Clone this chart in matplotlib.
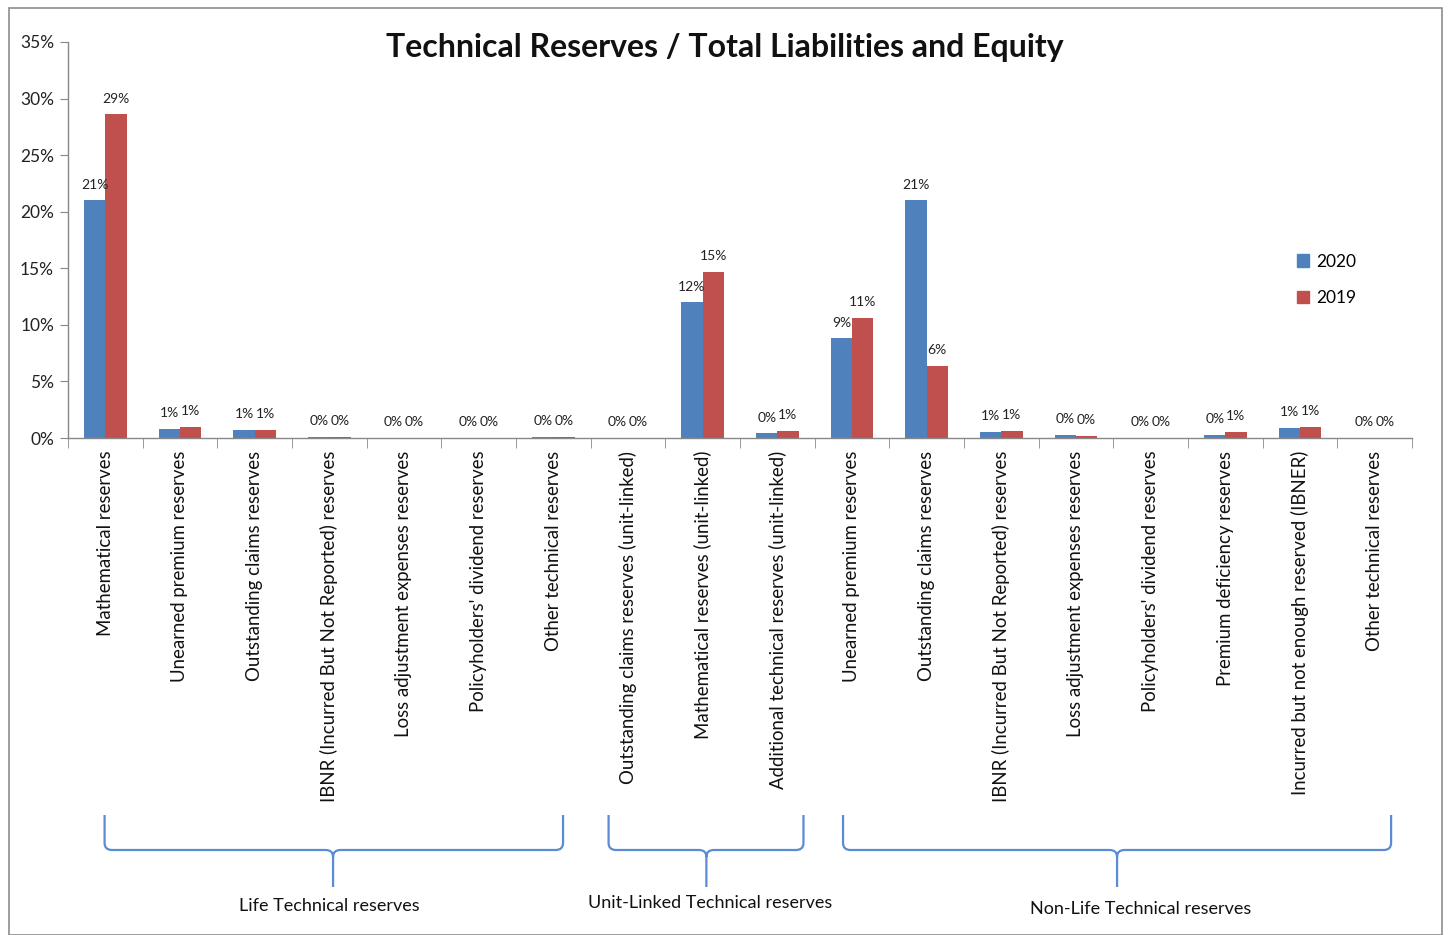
import matplotlib
matplotlib.use("Agg")
import matplotlib.pyplot as plt
import numpy as np
from matplotlib.patches import Rectangle, Patch
from matplotlib.path import Path
from matplotlib.patches import PathPatch
from matplotlib.transforms import blended_transform_factory
from matplotlib.ticker import FuncFormatter, MultipleLocator

plt.rcParams['font.family'] = ['Lato', 'DejaVu Sans']

categories = [
    "Mathematical reserves",
    "Unearned premium reserves",
    "Outstanding claims reserves",
    "IBNR (Incurred But Not Reported) reserves",
    "Loss adjustment expenses reserves",
    "Policyholders' dividend reserves",
    "Other technical reserves",
    "Outstanding claims reserves (unit-linked)",
    "Mathematical reserves (unit-linked)",
    "Additional technical reserves (unit-linked)",
    "Unearned premium reserves",
    "Outstanding claims reserves",
    "IBNR (Incurred But Not Reported) reserves",
    "Loss adjustment expenses reserves",
    "Policyholders' dividend reserves",
    "Premium deficiency reserves",
    "Incurred but not enough reserved (IBNER)",
    "Other technical reserves",
]

values_2020 = [21.0, 0.8, 0.7, 0.1, 0.0, 0.0, 0.1, 0.0, 12.0, 0.4,
               8.8, 21.0, 0.55, 0.3, 0.0, 0.3, 0.9, 0.0]
values_2019 = [28.6, 1.0, 0.7, 0.1, 0.0, 0.0, 0.1, 0.0, 14.7, 0.6,
               10.6, 6.4, 0.6, 0.2, 0.0, 0.55, 1.0, 0.0]

labels_2020 = ["21%", "1%", "1%", "0%", "0%", "0%", "0%", "0%", "12%", "0%",
               "9%", "21%", "1%", "0%", "0%", "0%", "1%", "0%"]
labels_2019 = ["29%", "1%", "1%", "0%", "0%", "0%", "0%", "0%", "15%", "1%",
               "11%", "6%", "1%", "0%", "0%", "1%", "1%", "0%"]

series_names = ["2020", "2019"]
group_names = ["Life Technical reserves", "Unit-Linked Technical reserves",
               "Non-Life Technical reserves"]
# brace spans in category units (start, end, tip) and label x
group_spans = [(-0.01, 6.13, 3.05), (6.74, 9.35, 8.05), (9.88, 17.22, 13.55)]
group_label_x = [3.0, 8.1, 13.86]

BLUE = "#4F81BD"
RED = "#C0504D"

W, H = 1449, 935
fig = plt.figure(figsize=(W / 100, H / 100), dpi=100)
ax = fig.add_axes([68 / W, 1 - 438 / H, (1412 - 68) / W, (438 - 42) / H])

x = np.arange(len(categories))
bw = 0.285
ax.bar(x - bw / 2, values_2020, bw, color=BLUE, label=series_names[0])
ax.bar(x + bw / 2, values_2019, bw, color=RED, label=series_names[1])

for xi, v, lab in zip(x - bw / 2, values_2020, labels_2020):
    ax.annotate(lab, (xi, v), xytext=(0, 7), textcoords="offset points",
                ha="center", va="bottom", fontsize=10, color="#222222")
for xi, v, lab in zip(x + bw / 2, values_2019, labels_2019):
    ax.annotate(lab, (xi, v), xytext=(0, 7), textcoords="offset points",
                ha="center", va="bottom", fontsize=10, color="#222222")

ax.set_xlim(-0.5, len(categories) - 0.5)
ax.set_ylim(0, 35)
ax.yaxis.set_major_locator(MultipleLocator(5))
ax.yaxis.set_major_formatter(FuncFormatter(lambda v, p: f"{v:.0f}%"))
ax.tick_params(axis="y", labelsize=12.5, length=6, color="#888888",
               labelcolor="#222222", pad=4)

ax.set_xticks(x)
ax.set_xticklabels(categories, rotation=90, fontsize=13.4, color="#111111",
                   va="top", ha="center")
ax.tick_params(axis="x", length=0, pad=9)
ax.set_xticks(np.arange(-0.5, len(categories) + 0.5, 1), minor=True)
ax.tick_params(axis="x", which="minor", length=7, color="#888888")

for s in ["top", "right"]:
    ax.spines[s].set_visible(False)
for s in ["left", "bottom"]:
    ax.spines[s].set_color("#888888")
    ax.spines[s].set_linewidth(1.0)

fig.text(725 / W, 1 - 48 / H, "Technical Reserves / Total Liabilities and Equity",
         ha="center", va="center", fontsize=23, fontweight="bold", color="#111111")

handles = [Patch(color=BLUE), Patch(color=RED)]
fig.legend(handles, series_names, loc="upper left",
           bbox_to_anchor=(1281 / W, 1 - 238 / H), frameon=False,
           fontsize=12.5, handlelength=0.7, handleheight=0.7,
           handletextpad=0.4, labelspacing=1.2)

# braces
tr = blended_transform_factory(ax.transData, fig.transFigure)
top_y = 1 - 815 / H
mid_y = 1 - 850 / H
tip_y = 1 - 887 / H
ry = 7 / H
rx = 0.1
for (a, b, t) in group_spans:
    verts = [
        (a, top_y), (a, mid_y + ry), (a, mid_y), (a + rx, mid_y),
        (t - rx, mid_y), (t, mid_y), (t, mid_y - ry), (t, tip_y),
        (t, mid_y - ry), (t, mid_y), (t + rx, mid_y),
        (b - rx, mid_y), (b, mid_y), (b, mid_y + ry), (b, top_y),
    ]
    codes = [Path.MOVETO, Path.LINETO, Path.CURVE3, Path.CURVE3,
             Path.LINETO, Path.CURVE3, Path.CURVE3, Path.LINETO,
             Path.MOVETO, Path.CURVE3, Path.CURVE3,
             Path.LINETO, Path.CURVE3, Path.CURVE3, Path.LINETO]
    pp = PathPatch(Path(verts, codes), transform=tr, fill=False,
                   edgecolor="#5B8BD0", linewidth=1.6, clip_on=False)
    fig.add_artist(pp)

label_y = [1 - 906 / H, 1 - 903 / H, 1 - 909 / H]
for name, lx, ly in zip(group_names, group_label_x, label_y):
    fig.text(lx, ly, name, transform=tr, ha="center", va="center",
             fontsize=13, color="#111111")

# outer frame
fig.add_artist(Rectangle((9 / W, 0 / H), (1442 - 9) / W, (H - 8) / H,
                         transform=fig.transFigure, fill=False,
                         edgecolor="#8c8c8c", linewidth=1.2))

fig.savefig("out.png", dpi=100)
